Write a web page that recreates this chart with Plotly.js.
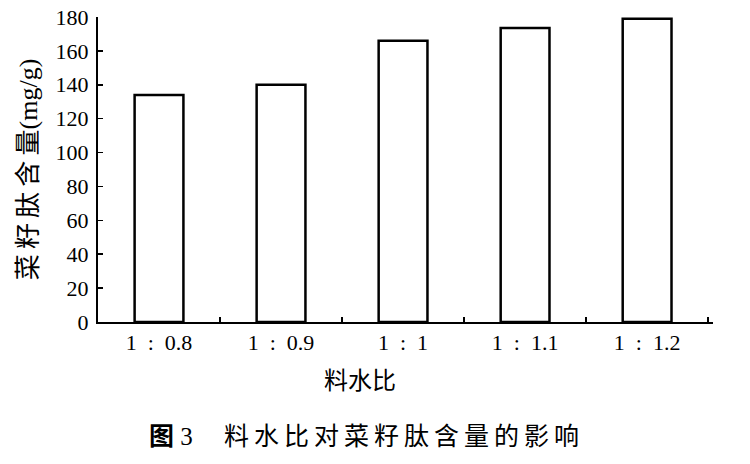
<!DOCTYPE html>
<html>
<head>
<meta charset="utf-8">
<script src="https://cdn.plot.ly/plotly-3.0.1.min.js"></script>
<style>html,body{margin:0;padding:0;background:#fff;}#chart{width:750px;height:464px;}</style>
</head>
<body>
<div id="chart"></div>
<script>
const categories = ["1\u00a0\u00a0:\u00a0\u00a00.8", "1\u00a0\u00a0:\u00a0\u00a00.9", "1\u00a0\u00a0:\u00a0\u00a01", "1\u00a0\u00a0:\u00a0\u00a01.1", "1\u00a0\u00a0:\u00a0\u00a01.2"];
const peptideContent = [134, 140, 166, 173.5, 179];
const yTickVals = [0, 20, 40, 60, 80, 100, 120, 140, 160, 180];

const serif = "Liberation Serif, Times New Roman, serif";
const cjk = "Liberation Serif, Noto Sans CJK SC, serif";

const trace = {
  type: "bar",
  x: categories,
  y: peptideContent,
  marker: {color: "#ffffff", line: {color: "#000000", width: 2.5}},
  width: 0.4,
  hoverinfo: "x+y"
};

const layout = {
  width: 750, height: 464,
  margin: {l: 98, r: 37, t: 17, b: 142},
  paper_bgcolor: "#ffffff", plot_bgcolor: "#ffffff",
  showlegend: false,
  xaxis: {
    type: "category",
    range: [-0.5, 4.54],
    showline: true, linecolor: "#000", linewidth: 2,
    ticks: "inside", tickson: "boundaries", ticklen: 5, tickwidth: 1.5, tickcolor: "#000",
    showgrid: false, zeroline: false,
    tickfont: {family: serif, size: 22, color: "#000"}
  },
  yaxis: {
    range: [0, 180],
    tickvals: yTickVals,
    showline: true, linecolor: "#000", linewidth: 2,
    ticks: "inside", ticklen: 5, tickwidth: 1.5, tickcolor: "#000",
    showgrid: false, zeroline: false,
    tickfont: {family: serif, size: 22, color: "#000"},
    ticklabelstandoff: 3,
    title: {text: "菜\u2009籽\u2009肽\u2009含\u2009量(mg/g)", font: {family: cjk, size: 26, color: "#000"}, standoff: 10}
  },
  annotations: [{
    text: "料水比",
    xref: "paper", yref: "paper", x: 0.426, y: -0.193, xanchor: "center", yanchor: "middle",
    showarrow: false,
    font: {family: cjk, size: 24, color: "#000"}
  }, {
    text: "<b>图</b> 3\u2003 料\u2009水\u2009比\u2009对\u2009菜\u2009籽\u2009肽\u2009含\u2009量\u2009的\u2009影\u2009响",
    xref: "paper", yref: "paper", x: 0.432, y: -0.374, xanchor: "center", yanchor: "middle",
    showarrow: false,
    font: {family: cjk, size: 25, color: "#000"}
  }]
};

Plotly.newPlot("chart", [trace], layout, {displayModeBar: false, staticPlot: true});
</script>
</body>
</html>
